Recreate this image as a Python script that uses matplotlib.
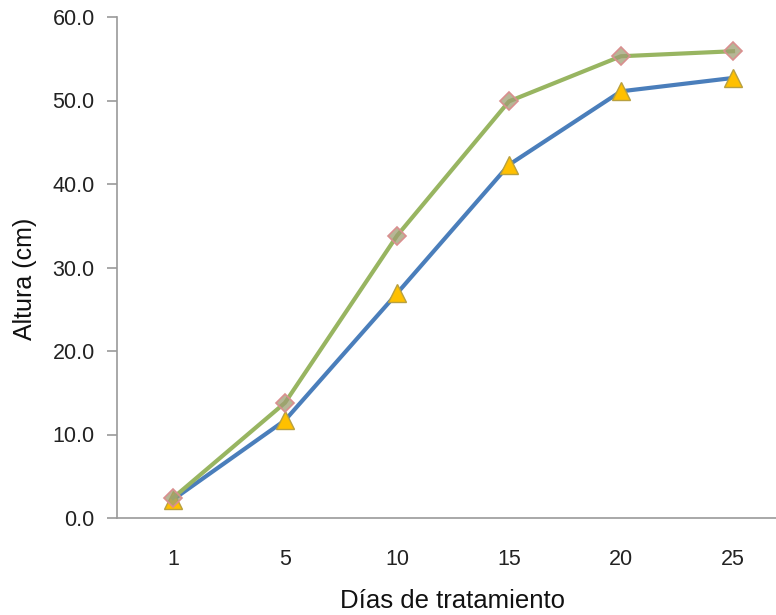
import matplotlib
matplotlib.use("Agg")
import matplotlib.pyplot as plt

plt.rcParams["font.family"] = ["Liberation Sans", "DejaVu Sans"]

categories = ["1", "5", "10", "15", "20", "25"]
serie_a = [2.2, 11.7, 26.9, 42.3, 51.1, 52.7]   # blue, triangles
serie_b = [2.4, 13.8, 33.8, 49.9, 55.3, 55.9]   # green, diamonds
yticks = [0, 10, 20, 30, 40, 50, 60]

fig = plt.figure(figsize=(7.76, 6.15), dpi=100)
ax = fig.add_axes([117/776, 97/615, 672/776, 501/615])

x = list(range(len(categories)))
ax.plot(x, serie_a, color="#4A7EBB", lw=3, marker="^", ms=13.5,
        mfc="#FFC000", mec="#B8A040", mew=1, zorder=3)
ax.plot(x, serie_b, color="#98B561", lw=3, marker="D", ms=9.5,
        mfc=(0.62, 0.62, 0.45, 0.75), mec="#D98F8F", mew=1.2, zorder=4)

ax.set_xlim(-0.5, 5.5)
ax.set_ylim(0, 60)
ax.set_xticks(x)
ax.set_xticklabels(categories)
ax.set_yticks(yticks)
ax.set_yticklabels([f"{v:.1f}" for v in yticks])

for s in ["top", "right"]:
    ax.spines[s].set_visible(False)
for s in ["left", "bottom"]:
    ax.spines[s].set_color("#9a9a9a")
    ax.spines[s].set_linewidth(1.2)

ax.tick_params(axis="y", length=7, color="#9a9a9a", width=1.2, labelsize=15.5, pad=9, colors="#222222")
ax.tick_params(axis="x", length=0, labelsize=15.5, pad=22, colors="#222222")

ax.set_xlabel("Días de tratamiento", fontsize=18.5, labelpad=14, color="#111111")
ax.set_ylabel("Altura (cm)", fontsize=18, color="#111111")
ax.yaxis.set_label_coords(-0.119, 0.478)

fig.savefig("out.png", dpi=100)
